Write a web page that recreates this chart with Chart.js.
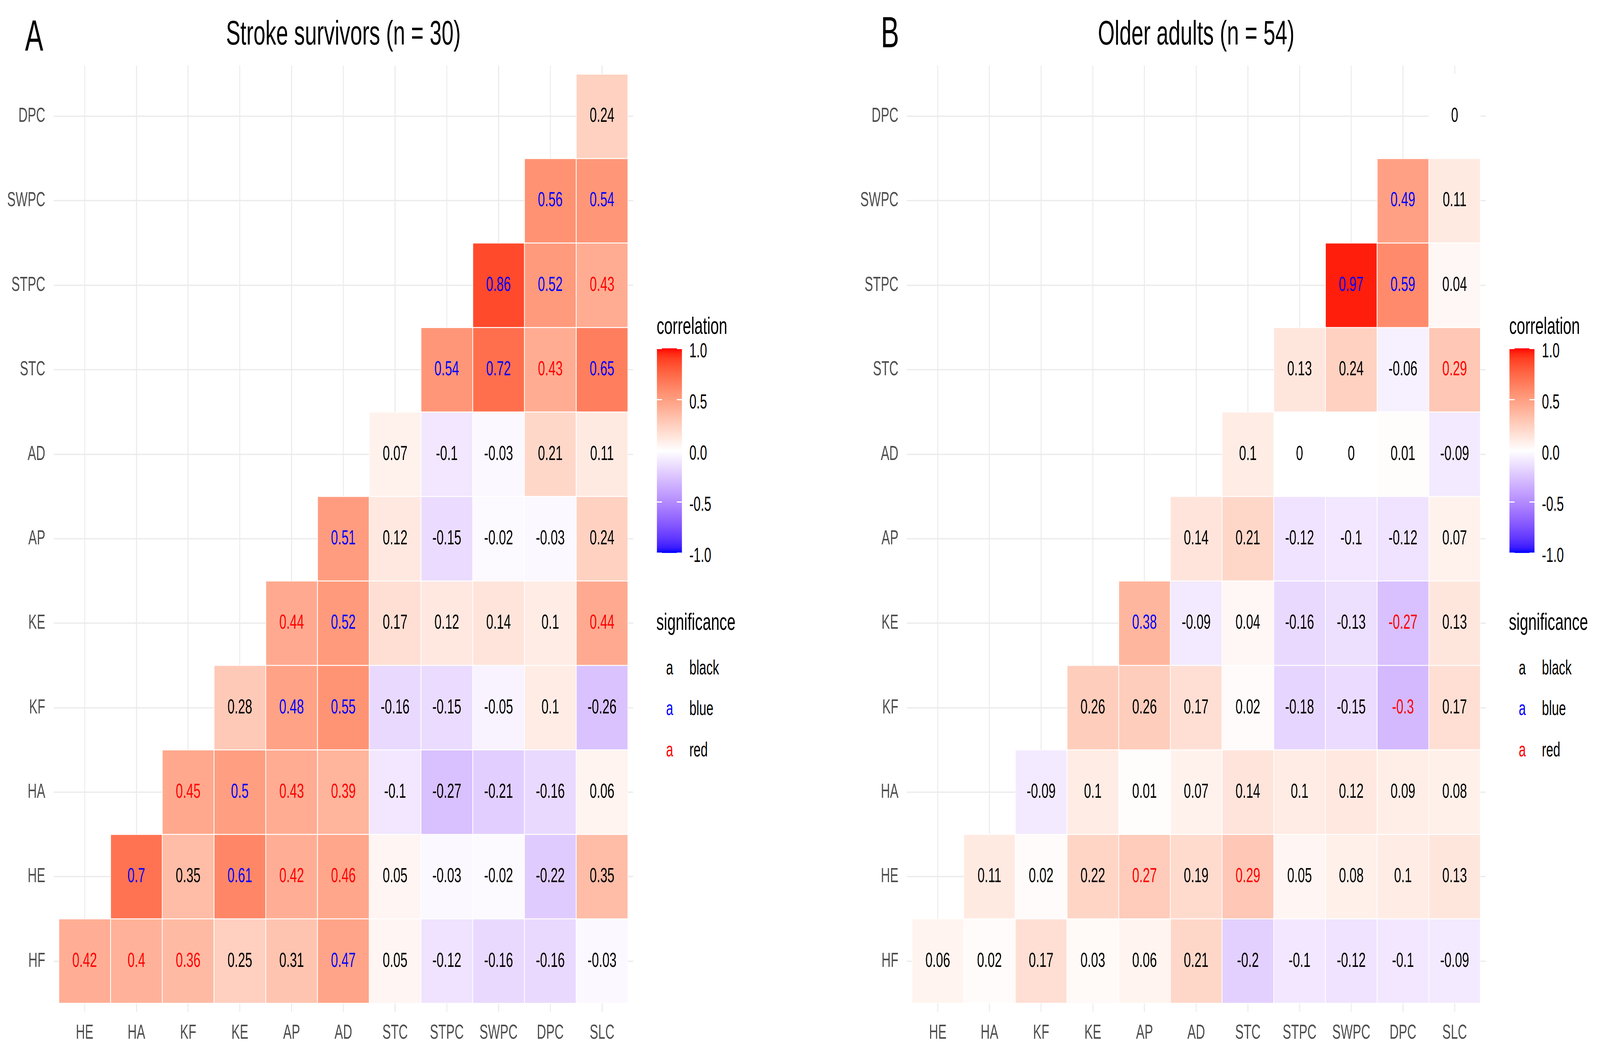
<!DOCTYPE html>
<html>
<head>
<meta charset="utf-8">
<script src="https://cdn.jsdelivr.net/npm/chart.js@4.4.1/dist/chart.umd.min.js"></script>
<style>
  html, body { margin: 0; padding: 0; background: #fff; overflow: hidden; }
  #wrap { position: relative; overflow: hidden; background: #fff; }
  #fig { position: absolute; left: 0; top: 0; width: 5373px; height: 2717px; overflow: hidden; transform-origin: 0 0; font-family: "Liberation Sans", Arial, sans-serif; background: #fff; }
  canvas { position: absolute; top: 0; }
  .t { position: absolute; white-space: nowrap; line-height: 1; transform: scaleX(0.82); transform-origin: 0 0; color: #000; }
  .cbar { position: absolute; }
  .ctick { position: absolute; background: #fff; height: 3px; width: 17px; }
</style>
</head>
<body>
<div id="wrap">
  <div id="fig">
    <canvas id="stroke"></canvas>
    <canvas id="older"></canvas>
  </div>
</div>
<script>
// variables on both axes (x: left to right, y: bottom to top)
const cols = ["HE", "HA", "KF", "KE", "AP", "AD", "STC", "STPC", "SWPC", "DPC", "SLC"];
const rows = ["HF", "HE", "HA", "KF", "KE", "AP", "AD", "STC", "STPC", "SWPC", "DPC"];

// row i holds the cells from column i to SLC
const strokeR = [
  [0.42, 0.4, 0.36, 0.25, 0.31, 0.47, 0.05, -0.12, -0.16, -0.16, -0.03],
  [0.7, 0.35, 0.61, 0.42, 0.46, 0.05, -0.03, -0.02, -0.22, 0.35],
  [0.45, 0.5, 0.43, 0.39, -0.1, -0.27, -0.21, -0.16, 0.06],
  [0.28, 0.48, 0.55, -0.16, -0.15, -0.05, 0.1, -0.26],
  [0.44, 0.52, 0.17, 0.12, 0.14, 0.1, 0.44],
  [0.51, 0.12, -0.15, -0.02, -0.03, 0.24],
  [0.07, -0.1, -0.03, 0.21, 0.11],
  [0.54, 0.72, 0.43, 0.65],
  [0.86, 0.52, 0.43],
  [0.56, 0.54],
  [0.24]
];
// k = black, b = blue, r = red
const strokeSig = [
  "rrrkkbkkkkk", "bkbrrkkkkk", "rbrrkkkkk", "kbbkkkkk", "rbkkkkr",
  "bkkkkk", "kkkkk", "bbrb", "bbr", "bb", "k"
];

const olderR = [
  [0.06, 0.02, 0.17, 0.03, 0.06, 0.21, -0.2, -0.1, -0.12, -0.1, -0.09],
  [0.11, 0.02, 0.22, 0.27, 0.19, 0.29, 0.05, 0.08, 0.1, 0.13],
  [-0.09, 0.1, 0.01, 0.07, 0.14, 0.1, 0.12, 0.09, 0.08],
  [0.26, 0.26, 0.17, 0.02, -0.18, -0.15, -0.3, 0.17],
  [0.38, -0.09, 0.04, -0.16, -0.13, -0.27, 0.13],
  [0.14, 0.21, -0.12, -0.1, -0.12, 0.07],
  [0.1, 0, 0, 0.01, -0.09],
  [0.13, 0.24, -0.06, 0.29],
  [0.97, 0.59, 0.04],
  [0.49, 0.11],
  [0]
];
const olderSig = [
  "kkkkkkkkkkk", "kkkrkrkkkk", "kkkkkkkkk", "kkkkkkrk", "bkkkkrk",
  "kkkkkk", "kkkkk", "kkkr", "bbk", "bk", "k"
];

const corrBreaks = [1, 0.5, 0, -0.5, -1];
const corrBreakLabels = ["1.0", "0.5", "0.0", "-0.5", "-1.0"];
const sigKeys = ["k", "b", "r"];
const sigNames = ["black", "blue", "red"];
const sigColors = { k: "#000000", b: "#0000FF", r: "#FF0000" };

const K = 0.82;          // horizontal squeeze of the whole figure
const W = 5373;
const H = 2717;
const PANEL_TOP = 168;
const PANEL_BOTTOM = 2591;
const FONT = '"Liberation Sans", Arial, sans-serif';

// fit the 5373x2717 figure to whatever viewport we get
const wrap = document.getElementById("wrap");
const fig = document.getElementById("fig");
const vw = window.innerWidth, vh = window.innerHeight;
wrap.style.width = vw + "px";
wrap.style.height = vh + "px";
fig.style.transform = "scale(" + (vw / W) + "," + (vh / H) + ")";

// --- colour scale: blue - white - red, interpolated in Lab like ggplot
function lin(c) { c /= 255; return c <= 0.04045 ? c / 12.92 : Math.pow((c + 0.055) / 1.055, 2.4); }
function unlin(c) {
  const v = c <= 0.0031308 ? 12.92 * c : 1.055 * Math.pow(c, 1 / 2.4) - 0.055;
  return Math.round(Math.min(1, Math.max(0, v)) * 255);
}
function toLab(rgb) {
  const R = lin(rgb[0]), G = lin(rgb[1]), B = lin(rgb[2]);
  const x = (0.4124 * R + 0.3576 * G + 0.1805 * B) / 0.95047;
  const y = 0.2126 * R + 0.7152 * G + 0.0722 * B;
  const z = (0.0193 * R + 0.1192 * G + 0.9505 * B) / 1.08883;
  const f = t => t > 0.008856 ? Math.cbrt(t) : 7.787 * t + 16 / 116;
  return [116 * f(y) - 16, 500 * (f(x) - f(y)), 200 * (f(y) - f(z))];
}
function fromLab(lab) {
  const fy = (lab[0] + 16) / 116, fx = fy + lab[1] / 500, fz = fy - lab[2] / 200;
  const inv = t => t * t * t > 0.008856 ? t * t * t : (t - 16 / 116) / 7.787;
  const x = inv(fx) * 0.95047, y = inv(fy), z = inv(fz) * 1.08883;
  const r = 3.2406 * x - 1.5372 * y - 0.4986 * z;
  const g = -0.9689 * x + 1.8758 * y + 0.0415 * z;
  const b = 0.0557 * x - 0.2040 * y + 1.0570 * z;
  return "rgb(" + unlin(r) + "," + unlin(g) + "," + unlin(b) + ")";
}
const LAB_LOW = toLab([0, 0, 255]), LAB_MID = toLab([255, 255, 255]), LAB_HIGH = toLab([255, 0, 0]);
function fillColor(v) {
  const end = v >= 0 ? LAB_HIGH : LAB_LOW;
  const t = Math.min(1, Math.abs(v));
  return fromLab([0, 1, 2].map(i => LAB_MID[i] + (end[i] - LAB_MID[i]) * t));
}

function cellsFrom(rvals, sig) {
  const out = [];
  rvals.forEach((row, i) => {
    row.forEach((r, n) => {
      out.push({ x: i + n, y: [i - 0.5, i + 0.5], r: r, sig: sig[i][n] });
    });
  });
  return out;
}

const cellText = {
  id: "cellText",
  afterDatasetsDraw(chart) {
    const ctx = chart.ctx;
    const cells = chart.data.datasets[0].data;
    ctx.save();
    ctx.font = "52px " + FONT;
    ctx.textAlign = "center";
    ctx.textBaseline = "middle";
    chart.getDatasetMeta(0).data.forEach((bar, k) => {
      const c = cells[k];
      ctx.fillStyle = sigColors[c.sig];
      ctx.fillText(String(c.r), bar.x, (bar.y + bar.base) / 2);
    });
    ctx.restore();
  }
};

function intTicks(axis, n) {
  axis.ticks = [];
  for (let i = 0; i < n; i++) axis.ticks.push({ value: i });
}

function makePanel(id, title, rvals, sig, cssLeft, cssWidth, panelLeft, panelRight) {
  const canvas = document.getElementById(id);
  const w = Math.round(cssWidth / K);
  const k = cssWidth / w;
  canvas.width = w;
  canvas.height = H;
  canvas.style.left = cssLeft + "px";
  canvas.style.width = cssWidth + "px";
  canvas.style.height = H + "px";

  const cells = cellsFrom(rvals, sig);
  const bw = 1.6;

  new Chart(canvas, {
    type: "bar",
    data: {
      datasets: [{
        data: cells,
        backgroundColor: cells.map(c => fillColor(c.r)),
        borderColor: "#FFFFFF",
        borderWidth: { top: bw, bottom: bw, left: bw / k, right: bw / k },
        borderSkipped: false,
        barPercentage: 1,
        categoryPercentage: 1
      }]
    },
    options: {
      responsive: false,
      animation: false,
      devicePixelRatio: 1,
      layout: { padding: { left: 0, right: w - (panelRight - cssLeft) / k, top: 0, bottom: 0 } },
      plugins: {
        legend: { display: false },
        tooltip: { enabled: false },
        title: {
          display: true,
          text: title,
          fullSize: false,
          color: "#000000",
          font: { family: FONT, size: 88, weight: "normal", lineHeight: 1.2 },
          padding: { top: 36.7, bottom: PANEL_TOP - 36.7 - 105.6 }
        }
      },
      scales: {
        x: {
          type: "linear",
          min: -0.6,
          max: 10.6,
          offset: false,
          afterBuildTicks: a => intTicks(a, cols.length),
          afterFit: a => { a.height = H - PANEL_BOTTOM; },
          grid: { color: "#EBEBEB", lineWidth: 3.3 / k, drawTicks: false, offset: false },
          border: { display: false },
          ticks: {
            autoSkip: false,
            maxRotation: 0,
            padding: 23,
            color: "#4D4D4D",
            font: { family: FONT, size: 52 },
            callback: v => cols[v]
          }
        },
        y: {
          type: "linear",
          min: -0.6,
          max: 10.6,
          afterBuildTicks: a => intTicks(a, rows.length),
          afterFit: a => { a.width = (panelLeft - cssLeft) / k; },
          grid: { color: "#EBEBEB", lineWidth: 3.3, drawTicks: false },
          border: { display: false },
          ticks: {
            autoSkip: false,
            padding: 28 / k,
            color: "#4D4D4D",
            font: { family: FONT, size: 52 },
            callback: v => rows[v]
          }
        }
      }
    },
    plugins: [cellText]
  });
}

// --- html text and legends
function addText(txt, left, baseline, size, color) {
  const d = document.createElement("div");
  d.className = "t";
  d.textContent = txt;
  d.style.left = left + "px";
  d.style.top = (baseline - 0.8465 * size) + "px";
  d.style.fontSize = size + "px";
  if (color) d.style.color = color;
  fig.appendChild(d);
}

function addLegend(L) {
  const barTop = 892, barH = 524, barLeft = L + 2, barW = 84;
  addText("correlation", L + 1, 855, 62);

  const stops = [];
  for (let i = 0; i <= 40; i++) {
    const v = -1 + i / 20;
    stops.push(fillColor(v) + " " + (i / 40 * 100).toFixed(2) + "%");
  }
  const bar = document.createElement("div");
  bar.className = "cbar";
  bar.style.left = barLeft + "px";
  bar.style.top = barTop + "px";
  bar.style.width = barW + "px";
  bar.style.height = barH + "px";
  bar.style.background = "linear-gradient(to top, " + stops.join(", ") + ")";
  fig.appendChild(bar);

  corrBreaks.forEach((v, i) => {
    const y = barTop + (1 - v) / 2 * barH;
    [barLeft, barLeft + barW - 17].forEach(x => {
      const t = document.createElement("div");
      t.className = "ctick";
      t.style.left = x + "px";
      t.style.top = (y - 1.5) + "px";
      fig.appendChild(t);
    });
    addText(corrBreakLabels[i], L + 111, y + 23, 52);
  });

  addText("significance", L, 1613, 62);
  const base = [1727, 1831, 1937];
  sigKeys.forEach((s, i) => {
    addText("a", L + 33, base[i], 52, sigColors[s]);
    addText(sigNames[i], L + 111, base[i], 52);
  });
}

Chart.defaults.font.family = FONT;

makePanel("stroke", "Stroke survivors (n = 30)", strokeR, strokeSig, 0, 2200, 180, 2126);
makePanel("older", "Older adults (n = 54)", olderR, olderSig, 2750, 2300, 3045, 4989);

addText("A", 84, 130, 112);
addText("B", 2958, 122, 112);
addLegend(2204);
addLegend(5067);
</script>
</body>
</html>
